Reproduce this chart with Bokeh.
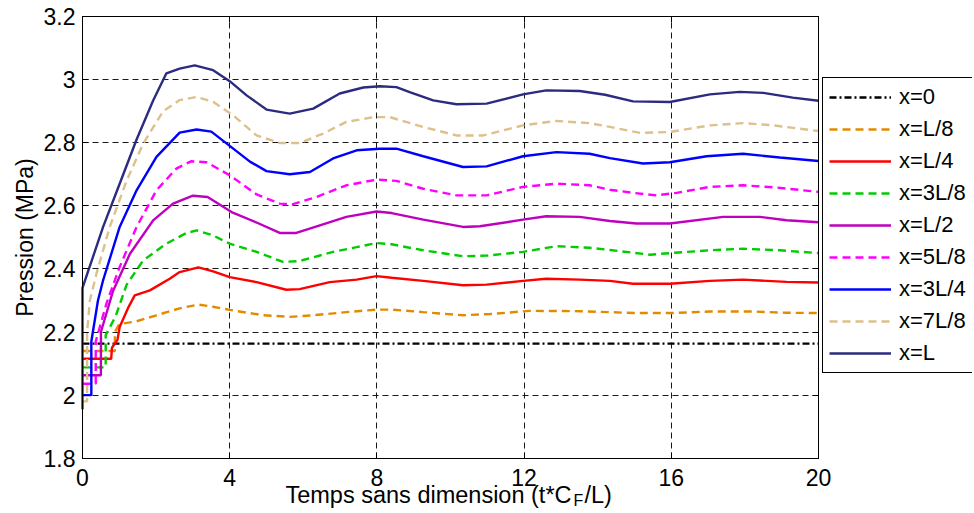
import math
from bokeh.plotting import figure
from bokeh.models import Range1d, FixedTicker, Label, Legend, LegendItem, LinearAxis
from bokeh.embed import file_html
from bokeh.resources import INLINE

# ---- data (dimensionless time t*C_F/L, pressure in MPa) ----
t_x0 = [0, 20]
p_x0 = [2.163, 2.163]

t_L8 = [0, 0.88, 0.88, 1.0, 1.47, 2.01, 2.64, 3.15, 3.55, 4.0, 4.91, 5.63, 6.27, 7.17, 7.99, 8.4, 9.26, 10.34, 11.07, 12.15, 13.5, 14.33, 15.0, 16.0, 17.05, 18.2, 19.13, 20]
p_L8 = [2.14, 2.14, 2.2, 2.225, 2.234, 2.253, 2.275, 2.287, 2.28, 2.27, 2.253, 2.248, 2.253, 2.263, 2.271, 2.271, 2.263, 2.253, 2.257, 2.267, 2.266, 2.263, 2.26, 2.26, 2.265, 2.265, 2.261, 2.26]

t_L4 = [0, 0.78, 0.8, 0.95, 1.01, 1.25, 1.42, 1.83, 2.37, 2.64, 3.15, 3.55, 4.0, 4.73, 5.54, 5.9, 6.72, 7.45, 7.99, 8.4, 9.26, 10.34, 10.98, 11.97, 12.6, 13.51, 14.33, 14.96, 15.96, 17.05, 17.95, 19.13, 20]
p_L4 = [2.115, 2.115, 2.15, 2.175, 2.216, 2.279, 2.316, 2.332, 2.369, 2.39, 2.405, 2.392, 2.374, 2.358, 2.334, 2.336, 2.358, 2.366, 2.377, 2.372, 2.362, 2.348, 2.35, 2.362, 2.369, 2.366, 2.362, 2.353, 2.353, 2.362, 2.366, 2.359, 2.357]

t_3L8 = [0, 0.63, 0.63, 0.9, 1.2, 1.65, 2.28, 2.83, 3.1, 3.55, 4.0, 4.73, 5.45, 5.9, 6.81, 7.45, 7.99, 8.4, 9.26, 10.34, 10.98, 11.97, 12.88, 13.78, 14.33, 15.42, 15.96, 17.05, 17.95, 18.95, 20]
p_3L8 = [2.088, 2.088, 2.19, 2.25, 2.35, 2.427, 2.48, 2.514, 2.522, 2.506, 2.48, 2.454, 2.422, 2.425, 2.454, 2.469, 2.482, 2.478, 2.459, 2.44, 2.442, 2.454, 2.472, 2.467, 2.46, 2.445, 2.45, 2.459, 2.464, 2.459, 2.45]

t_L2 = [0, 0.5, 0.5, 0.83, 1.29, 1.92, 2.46, 3.0, 3.4, 4.05, 4.73, 5.36, 5.81, 6.45, 7.17, 7.99, 8.4, 9.26, 10.34, 10.8, 11.97, 12.6, 13.51, 14.33, 15.05, 15.96, 17.41, 18.41, 19.13, 20]
p_L2 = [2.063, 2.063, 2.2, 2.33, 2.448, 2.554, 2.607, 2.632, 2.628, 2.58, 2.547, 2.514, 2.514, 2.538, 2.565, 2.582, 2.577, 2.556, 2.533, 2.535, 2.556, 2.567, 2.565, 2.552, 2.544, 2.544, 2.565, 2.565, 2.554, 2.548]

t_5L8 = [0, 0.36, 0.36, 0.65, 1.01, 1.47, 2.01, 2.55, 2.95, 3.37, 4.0, 4.73, 5.36, 5.72, 6.36, 7.17, 7.99, 8.53, 9.26, 10.16, 10.98, 11.97, 12.88, 13.78, 14.33, 14.96, 15.6, 16.14, 17.05, 17.95, 18.86, 20]
p_5L8 = [2.036, 2.036, 2.17, 2.29, 2.406, 2.533, 2.649, 2.718, 2.741, 2.738, 2.697, 2.636, 2.607, 2.605, 2.628, 2.665, 2.683, 2.679, 2.654, 2.633, 2.633, 2.66, 2.67, 2.665, 2.651, 2.641, 2.633, 2.641, 2.66, 2.665, 2.658, 2.644]

t_3L4 = [0, 0.24, 0.24, 0.42, 0.56, 1.01, 1.47, 2.01, 2.64, 3.1, 3.5, 4.0, 4.55, 5.0, 5.63, 6.18, 6.81, 7.45, 8.08, 8.53, 9.26, 10.34, 10.98, 11.97, 12.88, 13.78, 14.33, 15.23, 15.96, 16.96, 17.95, 18.95, 20]
p_3L4 = [2.0, 2.0, 2.17, 2.3, 2.364, 2.533, 2.649, 2.755, 2.832, 2.842, 2.835, 2.79, 2.74, 2.71, 2.7, 2.707, 2.75, 2.776, 2.781, 2.781, 2.757, 2.723, 2.725, 2.757, 2.77, 2.765, 2.751, 2.734, 2.738, 2.757, 2.765, 2.753, 2.742]

t_7L8 = [0, 0.125, 0.125, 0.2, 0.38, 0.74, 1.2, 1.65, 2.19, 2.64, 3.1, 3.55, 4.09, 4.73, 5.36, 5.9, 6.54, 7.17, 7.9, 8.35, 9.26, 10.16, 10.89, 11.97, 12.88, 13.78, 14.33, 15.15, 15.96, 17.05, 17.95, 18.77, 20]
p_7L8 = [1.98, 1.98, 2.2, 2.3, 2.385, 2.533, 2.68, 2.797, 2.9, 2.935, 2.945, 2.93, 2.887, 2.823, 2.799, 2.799, 2.829, 2.866, 2.881, 2.881, 2.85, 2.823, 2.823, 2.855, 2.869, 2.862, 2.85, 2.831, 2.834, 2.855, 2.862, 2.855, 2.837]

t_L = [0, 0, 0.56, 1.01, 1.47, 1.92, 2.28, 2.64, 3.05, 3.55, 4.0, 4.46, 5.0, 5.63, 6.27, 6.99, 7.63, 8.08, 8.53, 8.89, 9.53, 10.16, 10.98, 11.97, 12.6, 13.51, 14.2, 14.96, 15.96, 17.05, 17.86, 18.5, 19.3, 20]
p_L = [1.955, 2.34, 2.533, 2.67, 2.81, 2.934, 3.02, 3.035, 3.045, 3.03, 2.995, 2.95, 2.905, 2.892, 2.908, 2.956, 2.975, 2.979, 2.976, 2.96, 2.934, 2.922, 2.924, 2.953, 2.966, 2.964, 2.952, 2.931, 2.929, 2.953, 2.961, 2.958, 2.943, 2.933]

series_labels = ["x=0", "x=L/8", "x=L/4", "x=3L/8", "x=L/2", "x=5L/8", "x=3L/4", "x=7L/8", "x=L"]
x_ticks = [0, 4, 8, 12, 16, 20]
y_ticks = [1.8, 2.0, 2.2, 2.4, 2.6, 2.8, 3.0, 3.2]
y_tick_labels = ["1.8", "2", "2.2", "2.4", "2.6", "2.8", "3", "3.2"]
x_lim = (0, 20)
y_lim = (1.8, 3.2)

FONT = "Liberation Sans"

# geometry: the frame fills the whole canvas; the data box (0..20, 1.8..3.2)
# sits at px 82..818 x 16..457.7, axes are drawn at fixed locations around it.
W, H = 972, 511
BOX_L, BOX_T, BOX_W, BOX_H = 82, 16, 736, 441.7
sx = BOX_W / (x_lim[1] - x_lim[0])
sy = BOX_H / (y_lim[1] - y_lim[0])
x_rng = (x_lim[0] - BOX_L / sx, x_lim[1] + (W - BOX_L - BOX_W) / sx)
y_rng = (y_lim[0] - (H - BOX_T - BOX_H) / sy, y_lim[1] + BOX_T / sy)

p = figure(width=W, height=H, output_backend="svg", toolbar_location=None,
           x_range=Range1d(*x_rng), y_range=Range1d(*y_rng),
           min_border_left=0, min_border_right=0, min_border_top=0, min_border_bottom=0)
p.title.visible = False
p.background_fill_color = "white"
p.border_fill_color = "white"
p.outline_line_color = None


def style_axis(ax, ticks, labels=True):
    ax.ticker = FixedTicker(ticks=ticks)
    ax.major_tick_in = 6
    ax.major_tick_out = 0
    ax.minor_tick_in = 0
    ax.minor_tick_out = 0
    ax.axis_line_color = "black"
    ax.axis_line_width = 1
    ax.major_tick_line_color = "black"
    ax.major_label_text_font = FONT
    ax.major_label_text_font_size = "23px"
    ax.major_label_text_color = "black"
    if not labels:
        ax.major_label_overrides = {float(t): "" for t in ticks}
        ax.major_label_standoff = 0


xb = p.xaxis[0]
style_axis(xb, x_ticks)
xb.fixed_location = y_lim[0]
xb.bounds = x_lim
xb.major_label_standoff = 11

yl = p.yaxis[0]
style_axis(yl, y_ticks)
yl.fixed_location = x_lim[0]
yl.bounds = y_lim
yl.major_label_overrides = {float(v): s for v, s in zip(y_ticks, y_tick_labels)}
yl.major_label_standoff = 7

xt = LinearAxis(fixed_location=y_lim[1], bounds=x_lim)
style_axis(xt, x_ticks, labels=False)
p.add_layout(xt, "above")

yr = LinearAxis(fixed_location=x_lim[1], bounds=y_lim)
style_axis(yr, y_ticks, labels=False)
p.add_layout(yr, "right")

for g in (p.xgrid[0], p.ygrid[0]):
    g.grid_line_color = "black"
    g.grid_line_dash = "6 4"
    g.grid_line_width = 1
    g.grid_line_alpha = 0.9
p.xgrid[0].cross_bounds = y_lim
p.ygrid[0].cross_bounds = x_lim

series = [
    (t_x0, p_x0, "black", "7 3 2 3"),
    (t_L8, p_L8, "#E38B00", "8 5"),
    (t_L4, p_L4, "#FF0000", "solid"),
    (t_3L8, p_3L8, "#00CC00", "8 5"),
    (t_L2, p_L2, "#BF00BF", "solid"),
    (t_5L8, p_5L8, "#FF00FF", "8 5"),
    (t_3L4, p_3L4, "#0000FF", "solid"),
    (t_7L8, p_7L8, "#DEC08C", "8 5"),
    (t_L, p_L, "#2B2B80", "solid"),
]
items = []
for (tx, py, col, dash), lab in zip(series, series_labels):
    r = p.line(tx, py, line_color=col, line_width=2.4, line_dash=dash)
    items.append(LegendItem(label=lab, renderers=[r]))

lg = Legend(items=items, location=(822, 138))
lg.border_line_color = "black"
lg.border_line_width = 1
lg.border_line_alpha = 1
lg.background_fill_color = "white"
lg.background_fill_alpha = 1
lg.label_text_font = FONT
lg.label_text_font_size = "22px"
lg.label_text_color = "black"
lg.glyph_width = 62
lg.glyph_height = 24
lg.label_height = 24
lg.label_standoff = 8
lg.spacing = 6
lg.padding = 6
lg.margin = 0
p.add_layout(lg)

# axis titles (screen units relative to the frame's bottom-left = canvas bottom-left)
ylab = Label(x=24, y=274, x_units="screen", y_units="screen", text="Pression (MPa)",
             angle=math.pi / 2, text_align="center", text_baseline="middle", text_font=FONT,
             text_font_size="23px", text_color="black")
lab1 = Label(x=571, y=17, x_units="screen", y_units="screen", text="Temps sans dimension (t*C",
             text_align="right", text_baseline="middle", text_font=FONT, text_font_size="23.5px",
             text_color="black")
lab2 = Label(x=573, y=11, x_units="screen", y_units="screen", text="F",
             text_align="left", text_baseline="middle", text_font=FONT, text_font_size="16px",
             text_color="black")
lab3 = Label(x=584, y=17, x_units="screen", y_units="screen", text="/L)",
             text_align="left", text_baseline="middle", text_font=FONT, text_font_size="23.5px",
             text_color="black")
for l in (ylab, lab1, lab2, lab3):
    p.add_layout(l)

open("out.html", "w").write(file_html(p, INLINE))
